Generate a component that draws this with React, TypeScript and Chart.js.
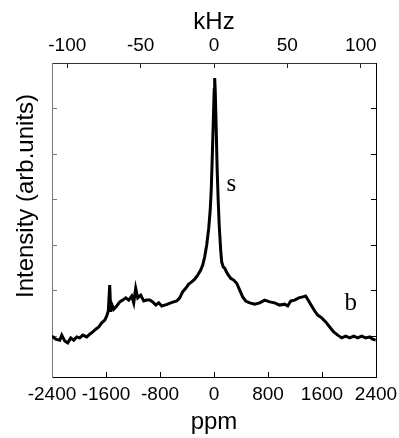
import { useEffect, useRef } from "react";
import { Chart, registerables } from "chart.js";

Chart.register(...registerables);

// Chemical shift (ppm) and intensity (arb. units)
const ppmValues = [
  -2400, -2344, -2285, -2255, -2211, -2167, -2122, -2078, -2033, -1989,
  -1944, -1885, -1841, -1796, -1752, -1707, -1663, -1618, -1589, -1566,
  -1545, -1530, -1515, -1485, -1441, -1396, -1352, -1307, -1263, -1219,
  -1189, -1160, -1130, -1086, -1041, -997, -952, -908, -863, -819,
  -775, -730, -686, -641, -597, -552, -508, -464, -419, -375,
  -330, -286, -241, -197, -167, -138, -108, -78, -56, -41,
  -27, -12, 3, 10, 18, 33, 47, 62, 77, 99,
  114, 136, 158, 203, 247, 292, 336, 381, 425, 470,
  529, 603, 677, 751, 825, 899, 973, 1047, 1092, 1136,
  1195, 1255, 1314, 1358, 1403, 1447, 1492, 1536, 1595, 1655,
  1714, 1773, 1833, 1892, 1951, 2011, 2070, 2129, 2188, 2248,
  2307, 2351, 2395,
];
const intensityValues = [
  0.0, -0.07, -0.09, 0.02, -0.11, -0.15, -0.04, -0.09, -0.02, -0.04,
  0.02, -0.02, 0.04, 0.09, 0.15, 0.2, 0.29, 0.35, 0.44, 0.55,
  1.12, 0.53, 0.7, 0.59, 0.66, 0.75, 0.79, 0.84, 0.79, 0.88,
  0.73, 1.05, 0.84, 0.9, 0.77, 0.79, 0.79, 0.75, 0.68, 0.73,
  0.66, 0.68, 0.7, 0.73, 0.75, 0.77, 0.84, 0.97, 1.05, 1.14,
  1.19, 1.25, 1.34, 1.45, 1.56, 1.74, 2.0, 2.37, 2.77, 3.21,
  3.87, 4.64, 5.41, 5.67, 5.41, 4.53, 3.65, 2.99, 2.44, 1.89,
  1.63, 1.52, 1.49, 1.36, 1.27, 1.23, 1.16, 1.01, 0.86, 0.77,
  0.73, 0.7, 0.73, 0.79, 0.75, 0.73, 0.68, 0.7, 0.66, 0.77,
  0.79, 0.84, 0.86, 0.88, 0.77, 0.66, 0.55, 0.46, 0.4, 0.31,
  0.2, 0.09, 0.02, -0.04, 0.0, -0.04, 0.0, -0.04, 0.0, -0.04,
  -0.02, -0.07, -0.09,
];

const ppmTicks = [-2400, -1600, -800, 0, 800, 1600, 2400];
const kHzTicks = [-100, -50, 0, 50, 100];
const intensityTicks = [0, 1, 2, 3, 4, 5, 6];
const ppmRange = [-2400, 2400];
const kHzRange = [-110.4, 110.4];
const intensityRange = [-0.9, 6];

const peakLabels = ["s", "b"];
const peakLabelPpm = [258, 2026];
const peakLabelIntensity = [3.19, 0.57];

const yTitle = "Intensity (arb.units)";
const xTitle = "ppm";
const x2Title = "kHz";

const SANS = "'Liberation Sans', Arial, sans-serif";
const SERIF = "'Liberation Serif', 'Times New Roman', serif";

const textPlugin = {
  id: "textPlugin",
  afterDraw(chart: any) {
    const { ctx, scales, chartArea } = chart;
    ctx.save();
    ctx.fillStyle = "#000";
    ctx.font = `25px ${SERIF}`;
    ctx.textAlign = "center";
    ctx.textBaseline = "alphabetic";
    peakLabels.forEach((t, i) => {
      ctx.fillText(
        t,
        scales.x.getPixelForValue(peakLabelPpm[i]),
        scales.y.getPixelForValue(peakLabelIntensity[i])
      );
    });
    ctx.font = `24px ${SANS}`;
    ctx.translate(chartArea.left - 18.7, (chartArea.top + chartArea.bottom) / 2 - 24);
    ctx.rotate(-Math.PI / 2);
    ctx.fillText(yTitle, 0, 0);
    ctx.restore();
  },
};

export default function App() {
  const ref = useRef<HTMLCanvasElement | null>(null);

  useEffect(() => {
    if (!ref.current) return;
    const tickFont = { family: SANS, size: 19 };
    const titleFont = { family: SANS, size: 24 };
    const fixTicks = (vals: number[]) => (s: any) => {
      s.ticks = vals.map((v) => ({ value: v }));
    };
    const chart = new Chart(ref.current, {
      type: "line",
      data: {
        datasets: [
          {
            data: ppmValues.map((x, i) => ({ x, y: intensityValues[i] })),
            borderColor: "#000",
            borderWidth: 3,
            pointRadius: 0,
            tension: 0,
            fill: false,
          },
        ],
      },
      options: {
        animation: false,
        responsive: false,
        devicePixelRatio: 1,
        layout: { padding: 0 },
        plugins: { legend: { display: false }, tooltip: { enabled: false } },
        scales: {
          x: {
            type: "linear",
            position: "bottom",
            min: ppmRange[0],
            max: ppmRange[1],
            afterBuildTicks: fixTicks(ppmTicks),
            ticks: {
              font: tickFont,
              color: "#000",
              padding: 11,
              maxRotation: 0,
              autoSkip: false,
              callback: (v: any) => String(v),
            },
            grid: { drawOnChartArea: false, tickLength: -5, color: "#000", tickColor: "#000" },
            border: { color: "#000", width: 1 },
            title: { display: true, text: xTitle, font: titleFont, color: "#000", padding: { top: 0, bottom: 1 } },
            afterFit: (s: any) => {
              s.height = 61;
              s.paddingLeft = 0;
              s.paddingRight = 0;
            },
          },
          x2: {
            type: "linear",
            position: "top",
            min: kHzRange[0],
            max: kHzRange[1],
            afterBuildTicks: fixTicks(kHzTicks),
            ticks: {
              font: tickFont,
              color: "#000",
              padding: 10.5,
              maxRotation: 0,
              autoSkip: false,
              callback: (v: any) => String(v),
            },
            grid: { drawOnChartArea: false, tickLength: -5, color: "#222", tickColor: "#222" },
            border: { color: "#333", width: 1 },
            title: { display: true, text: x2Title, font: titleFont, color: "#000", padding: { top: 8, bottom: 0 } },
            afterFit: (s: any) => {
              s.height = 63;
              s.paddingLeft = 0;
              s.paddingRight = 0;
            },
          },
          y: {
            type: "linear",
            position: "left",
            min: intensityRange[0],
            max: intensityRange[1],
            afterBuildTicks: fixTicks(intensityTicks),
            ticks: { display: false },
            grid: { drawOnChartArea: false, tickLength: -5, color: "#777", tickColor: "#777" },
            border: { color: "#777", width: 1 },
            afterFit: (s: any) => {
              s.width = 52;
              s.paddingTop = 0;
              s.paddingBottom = 0;
            },
          },
          y2: {
            type: "linear",
            position: "right",
            min: intensityRange[0],
            max: intensityRange[1],
            afterBuildTicks: fixTicks(intensityTicks),
            ticks: { display: false },
            grid: { drawOnChartArea: false, tickLength: -5, color: "#000", tickColor: "#000" },
            border: { color: "#000", width: 1 },
            afterFit: (s: any) => {
              s.width = 23;
              s.paddingTop = 0;
              s.paddingBottom = 0;
            },
          },
        },
      },
      plugins: [textPlugin],
    } as any);
    return () => chart.destroy();
  }, []);

  return (
    <div style={{ position: "absolute", left: 0, top: 0, width: 399, height: 438, background: "#fff" }}>
      <canvas ref={ref} width={399} height={438} style={{ display: "block" }} />
    </div>
  );
}
